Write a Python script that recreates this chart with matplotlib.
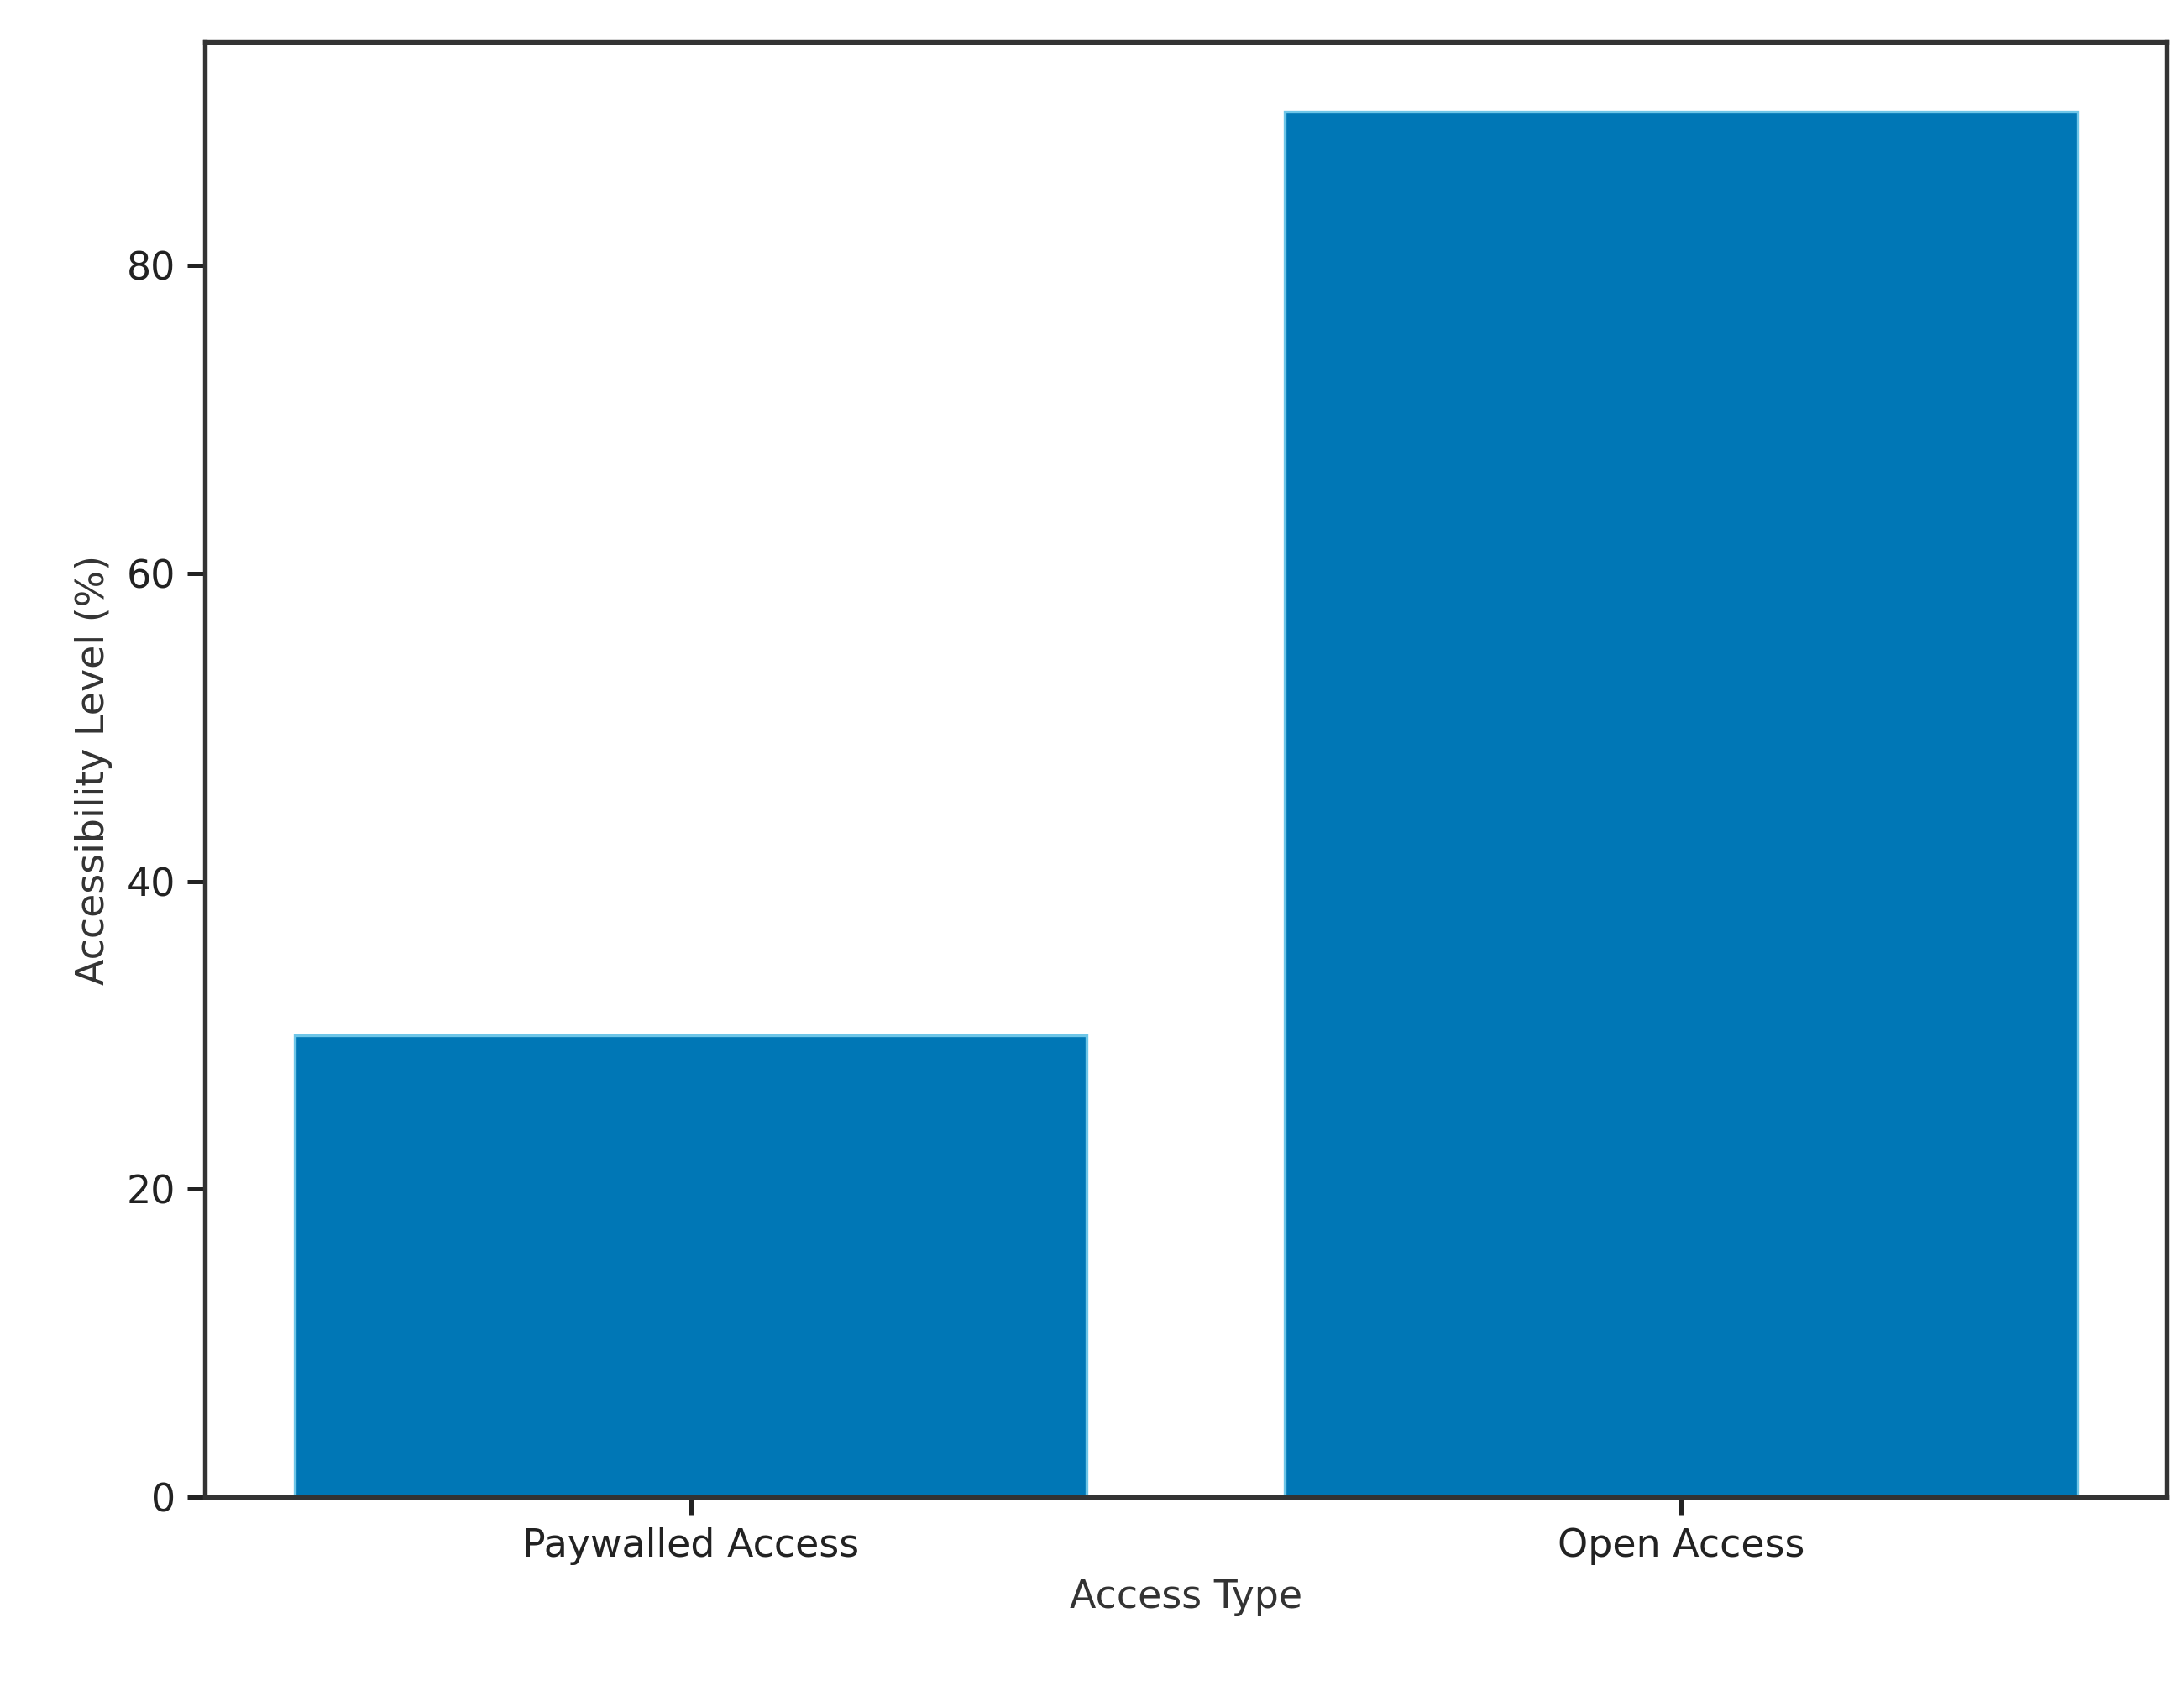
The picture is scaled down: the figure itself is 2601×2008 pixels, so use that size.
import matplotlib
matplotlib.use("Agg")
import matplotlib.pyplot as plt

categories = ["Paywalled Access", "Open Access"]
values = [30, 90]

fig = plt.figure(figsize=(2601/300, 2008/300), dpi=300)
ax = fig.add_axes([0.094, 0.112, 0.898, 0.863])
ax.bar(categories, values, color="#0077b6", edgecolor="#6ec6e8", linewidth=0.8)
ax.set_xlabel("Access Type", fontsize=11, color="#333333")
ax.set_ylabel("Accessibility Level (%)", fontsize=11, color="#333333")
ax.tick_params(labelsize=11, colors="#222222", width=1.2, length=5)
for s in ax.spines.values():
    s.set_linewidth(1.3)
    s.set_color("#333333")
fig.savefig("out.png", dpi=300)
